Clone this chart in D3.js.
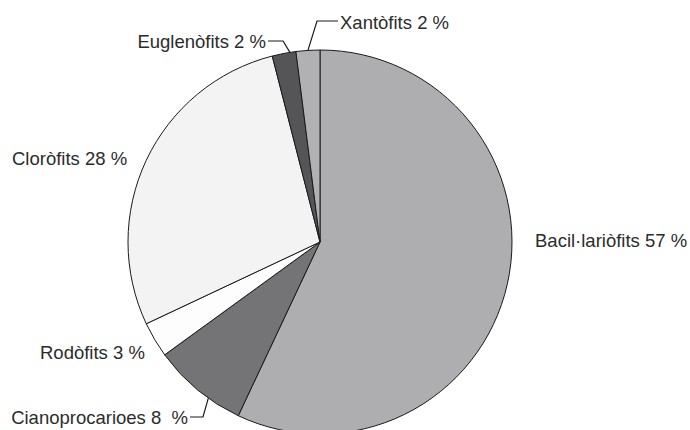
<!DOCTYPE html>
<html>
  <head>
    <meta charset="utf-8">
    <title>Grups d'algues</title>
    <script src="https://d3js.org/d3.v7.min.js"></script>
    <style>
    body{margin:0; background:white;}
    svg{display:block; background:white;}
    text{font-family:"Liberation Sans", Arial, sans-serif; font-size:18.5px; fill:#2b2b2b; white-space:pre;}
    path.slice{stroke:#1a1a1a; stroke-width:1;}
    path.lead{fill:none; stroke:#1a1a1a; stroke-width:1.2;}
    </style>
  </head>
  <body>
    <script>
    // data
    var groups = ["Bacil·lariòfits", "Cianoprocarioes", "Rodòfits", "Cloròfits", "Euglenòfits", "Xantòfits"];
    var percents = [57, 8, 3, 28, 2, 2];
    var labels = ["Bacil·lariòfits 57 %", "Cianoprocarioes 8  %", "Rodòfits 3 %", "Cloròfits 28 %", "Euglenòfits 2 %", "Xantòfits 2 %"];
    var fills = ["#aeaeb0", "#747476", "#fdfdfd", "#f3f3f3", "#555557", "#b1b1b3"];

    var width = 690, height = 430;
    var cx = 320, cy = 242, r = 192;

    var svg = d3.select("body").append("svg").attr("width", width).attr("height", height);
    var g = svg.append("g").attr("transform", "translate(" + cx + "," + cy + ")");

    var pie = d3.pie().sort(null).value(function(d){ return d; });
    var arc = d3.arc().innerRadius(0).outerRadius(r);
    var arcs = pie(percents);

    g.selectAll("path.slice")
      .data(arcs)
      .enter()
      .append("path")
      .attr("class", "slice")
      .attr("d", arc)
      .style("fill", function(d, i){ return fills[i]; });

    // label placement (x, y baseline, anchor, where leader hits the arc, bend points)
    var place = [
      {x: 535, y: 247, anchor: "start"},
      {x: 188, y: 424, anchor: "end", f: 0.36, bend: [[203, 417], [190, 417]]},
      {x: 40, y: 359, anchor: "start"},
      {x: 12, y: 165, anchor: "start"},
      {x: 266, y: 48, anchor: "end", f: 0.75, bend: [[283, 41], [268, 41]]},
      {x: 340, y: 29, anchor: "start", f: 0.5, bend: [[317, 21], [338, 21]]}
    ];

    function onArc(d, f){
      var a = d.startAngle + f * (d.endAngle - d.startAngle);
      return [cx + r * Math.sin(a), cy - r * Math.cos(a)];
    }

    var line = d3.line();
    arcs.forEach(function(d, i){
      var p = place[i];
      if(p.bend){
        svg.append("path").attr("class", "lead")
          .attr("d", line([onArc(d, p.f)].concat(p.bend)));
      }
      svg.append("text")
        .attr("x", p.x).attr("y", p.y)
        .attr("text-anchor", p.anchor)
        .text(labels[i]);
    });
    </script>
  </body>
</html>
